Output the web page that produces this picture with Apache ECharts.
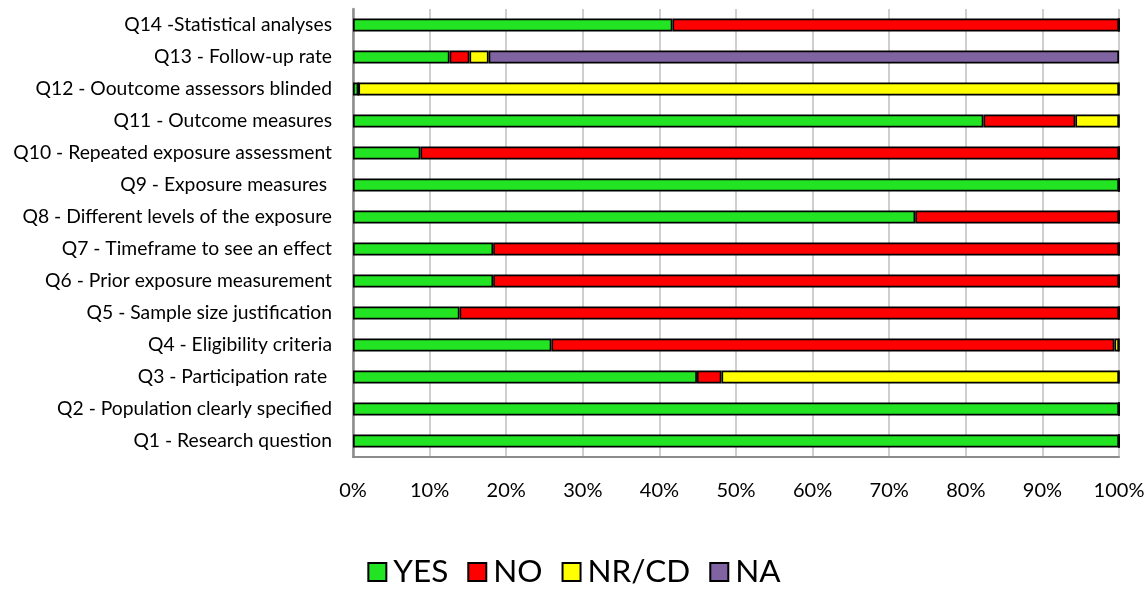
<!DOCTYPE html>
<html>
<head>
<meta charset="utf-8">
<script src="https://cdn.jsdelivr.net/npm/echarts@6/dist/echarts.min.js"></script>
<style>
  html, body { margin: 0; padding: 0; background: #fff; }
  #chart { width: 1148px; height: 590px; }
</style>
</head>
<body>
<div id="chart"></div>
<script>
// Quality assessment questions (bottom to top)
const questions = [
  'Q1 - Research question',
  'Q2 - Population clearly specified',
  'Q3 - Participation rate ',
  'Q4 - Eligibility criteria',
  'Q5 - Sample size justification',
  'Q6 - Prior exposure measurement',
  'Q7 - Timeframe to see an effect',
  'Q8 - Different levels of the exposure',
  'Q9 - Exposure measures ',
  'Q10 - Repeated exposure assessment',
  'Q11 - Outcome measures',
  'Q12 - Ooutcome assessors blinded',
  'Q13 - Follow-up rate',
  'Q14 -Statistical analyses'
];

// Share of studies per answer (%), same order as questions
const yesValues  = [100, 100, 44.9, 25.9, 13.9, 18.3, 18.3, 73.4, 100, 8.8, 82.3, 0.7, 12.6, 41.7];
const noValues   = [0, 0, 3.2, 73.5, 86.1, 81.7, 81.7, 26.6, 0, 91.2, 12.0, 0, 2.6, 58.3];
const nrcdValues = [0, 0, 51.9, 0.6, 0, 0, 0, 0, 0, 0, 5.7, 99.3, 2.5, 0];
const naValues   = [0, 0, 0, 0, 0, 0, 0, 0, 0, 0, 0, 0, 82.3, 0];

const tickLabels = ['0%', '10%', '20%', '30%', '40%', '50%', '60%', '70%', '80%', '90%', '100%'];

const seriesNames  = ['YES', 'NO', 'NR/CD', 'NA'];
const seriesColors = ['#23e423', '#ff0000', '#ffff00', '#8064a2'];
const seriesData   = [yesValues, noValues, nrcdValues, naValues];

const font = 'Lato, "Open Sans", sans-serif';

const chart = echarts.init(document.getElementById('chart'), null, { renderer: 'canvas' });

chart.setOption({
  animation: false,
  backgroundColor: '#ffffff',
  grid: {
    left: 353, right: 29, top: 9, bottom: 133,
    containLabel: false,
    outerBoundsMode: 'none'
  },
  xAxis: {
    type: 'value',
    min: 0,
    max: 100,
    interval: 10,
    axisLine: { show: true, lineStyle: { color: '#8c8c8c', width: 2 } },
    axisTick: { show: false },
    splitLine: { show: true, lineStyle: { color: '#bfbfbf', width: 1.5 } },
    axisLabel: {
      color: '#000',
      fontFamily: font,
      fontSize: 20,
      margin: 24,
      formatter: v => tickLabels[Math.round(v / 10)]
    }
  },
  yAxis: {
    type: 'category',
    data: questions,
    axisLine: { show: true, lineStyle: { color: '#8c8c8c', width: 2.5 } },
    axisTick: { show: false },
    axisLabel: {
      color: '#000',
      fontFamily: font,
      fontSize: 19.3,
      margin: 21
    }
  },
  legend: {
    top: 556,
    left: 'center',
    padding: 0,
    itemWidth: 18,
    itemHeight: 18,
    itemGap: 19,
    icon: 'rect',
    textStyle: { fontFamily: font, fontSize: 31.5, color: '#000', padding: [0, 0, 0, 2] },
    data: seriesNames.map(n => ({ name: n, itemStyle: { borderColor: '#000', borderWidth: 2 } }))
  },
  series: seriesNames.map((name, i) => ({
    name: name,
    type: 'bar',
    stack: 'total',
    barWidth: 13,
    data: seriesData[i],
    itemStyle: { color: seriesColors[i], borderColor: '#000', borderWidth: 1.7 }
  }))
});
</script>
</body>
</html>
